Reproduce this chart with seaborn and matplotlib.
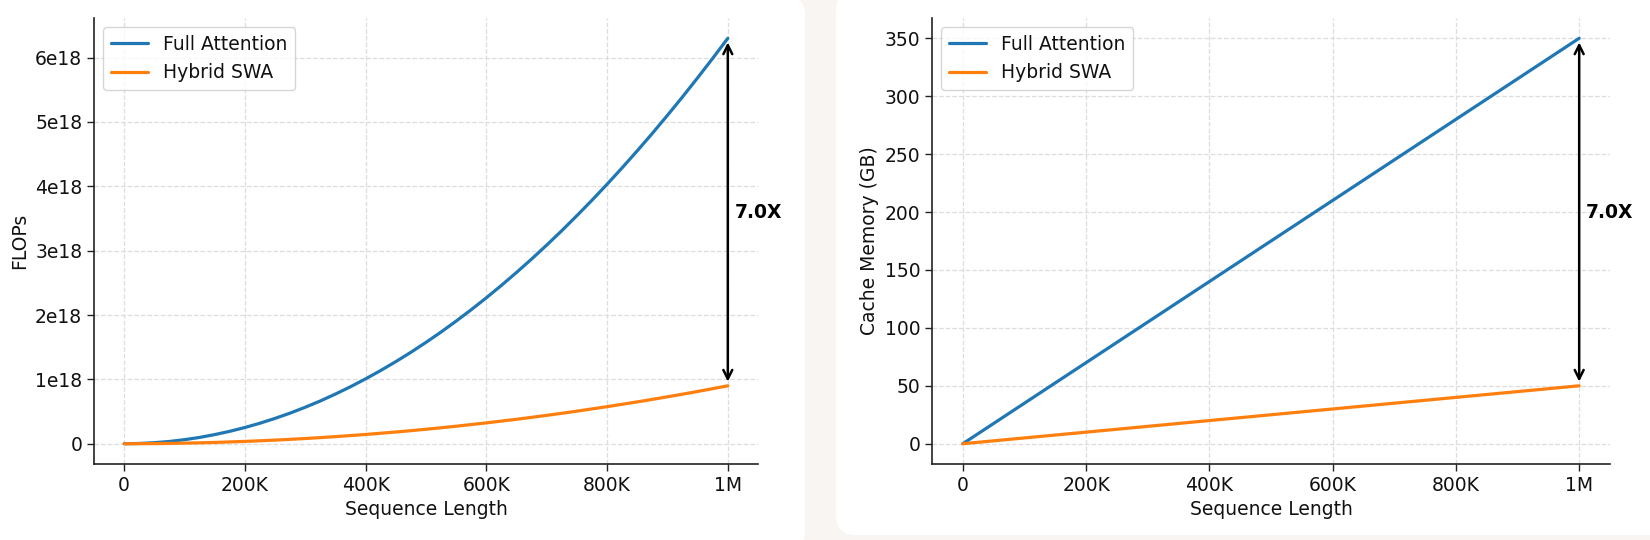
import numpy as np
import pandas as pd
import seaborn as sns
import matplotlib.pyplot as plt
from matplotlib.patches import FancyBboxPatch
from matplotlib.transforms import IdentityTransform

# sequence lengths in thousands of tokens
seq_len_k = [0, 25, 50, 75, 100, 125, 150, 175, 200, 225, 250, 275, 300, 325, 350, 375,
             400, 425, 450, 475, 500, 525, 550, 575, 600, 625, 650, 675, 700, 725, 750,
             775, 800, 825, 850, 875, 900, 925, 950, 975, 1000]
# FLOPs, in units of 1e18
flops_full = [0, 0.004, 0.016, 0.035, 0.063, 0.098, 0.142, 0.193, 0.252, 0.319, 0.394,
              0.476, 0.567, 0.665, 0.772, 0.886, 1.008, 1.138, 1.276, 1.421, 1.575,
              1.736, 1.906, 2.083, 2.268, 2.461, 2.662, 2.870, 3.087, 3.311, 3.544,
              3.784, 4.032, 4.288, 4.552, 4.823, 5.103, 5.390, 5.686, 5.989, 6.300]
flops_hybrid = [0, 0.001, 0.002, 0.005, 0.009, 0.014, 0.020, 0.028, 0.036, 0.046, 0.056,
                0.068, 0.081, 0.095, 0.110, 0.127, 0.144, 0.163, 0.182, 0.203, 0.225,
                0.248, 0.272, 0.298, 0.324, 0.352, 0.380, 0.410, 0.441, 0.473, 0.506,
                0.541, 0.576, 0.613, 0.650, 0.689, 0.729, 0.770, 0.812, 0.856, 0.900]

mem_len_k = [0, 200, 400, 600, 800, 1000]
mem_full = [0, 70, 140, 210, 280, 350]
mem_hybrid = [0, 10, 20, 30, 40, 50]

x_ticks_k = [0, 200, 400, 600, 800, 1000]
x_tick_labels = ['0', '200K', '400K', '600K', '800K', '1M']
flops_ticks = [0, 1, 2, 3, 4, 5, 6]
flops_tick_labels = ['0', '1e18', '2e18', '3e18', '4e18', '5e18', '6e18']
mem_ticks = [0, 50, 100, 150, 200, 250, 300, 350]

series_names = ['Full Attention', 'Hybrid SWA']
colors = ['#1f77b4', '#ff7f0e']

sns.set_style('ticks')
plt.rcParams['font.family'] = ['DejaVu Sans']
plt.rcParams['font.size'] = 13.5
plt.rcParams['axes.edgecolor'] = '#222222'
plt.rcParams['text.color'] = '#111111'
plt.rcParams['axes.labelcolor'] = '#111111'
plt.rcParams['xtick.color'] = '#222222'
plt.rcParams['ytick.color'] = '#222222'
plt.rcParams['xtick.labelcolor'] = '#111111'
plt.rcParams['ytick.labelcolor'] = '#111111'

fig = plt.figure(figsize=(16.5, 5.4), dpi=100, facecolor='#f8f5f2')

# white rounded cards behind each chart (pixel coords)
for x0, y0, w, h in [(-40, -10, 845, 555), (836, 5, 860, 545)]:
    card = FancyBboxPatch((x0, y0), w, h, boxstyle='round,pad=0,rounding_size=20',
                          facecolor='white', edgecolor='none', transform=IdentityTransform(),
                          zorder=-10)
    fig.add_artist(card)

ax1 = fig.add_axes([94 / 1650, 76 / 540, 664 / 1650, 446 / 540])
ax2 = fig.add_axes([932 / 1650, 76 / 540, 678 / 1650, 446 / 540])


def draw(ax, x, full, hybrid, ylabel):
    df = pd.DataFrame({
        'x': list(x) * 2,
        'y': list(full) + list(hybrid),
        'kind': [series_names[0]] * len(x) + [series_names[1]] * len(x),
    })
    sns.lineplot(data=df, x='x', y='y', hue='kind', palette=colors, linewidth=2.3, ax=ax)
    ax.legend(loc='upper left', fontsize=13.5, handlelength=2.0)
    ax.grid(True, linestyle='--', color='#dddddd', linewidth=0.9)
    ax.set_axisbelow(True)
    sns.despine(ax=ax)
    ax.set_xticks(x_ticks_k)
    ax.set_xticklabels(x_tick_labels)
    ax.set_xlabel('Sequence Length', fontsize=13.5)
    ax.set_ylabel(ylabel, fontsize=13.5)
    ax.tick_params(length=5, width=1, labelsize=13.5)
    for s in ax.spines.values():
        s.set_linewidth(1.2)
    # ratio arrow at the last point
    x_end, top, bot = x[-1], full[-1], hybrid[-1]
    ax.annotate('', xy=(x_end, top), xytext=(x_end, bot),
                arrowprops=dict(arrowstyle='<->', lw=1.8, color='black',
                                mutation_scale=16, shrinkA=3, shrinkB=3))
    ax.annotate(f'{top / bot:.1f}X', xy=(x_end, (top + bot) / 2), xytext=(5, 0),
                textcoords='offset points', ha='left', va='center',
                fontweight='bold', fontsize=13.5, color='black')


draw(ax1, seq_len_k, flops_full, flops_hybrid, 'FLOPs')
ax1.set_yticks(flops_ticks)
ax1.set_yticklabels(flops_tick_labels)

draw(ax2, mem_len_k, mem_full, mem_hybrid, 'Cache Memory (GB)')
ax2.set_yticks(mem_ticks)

fig.savefig('out.png', dpi=100, facecolor=fig.get_facecolor())
